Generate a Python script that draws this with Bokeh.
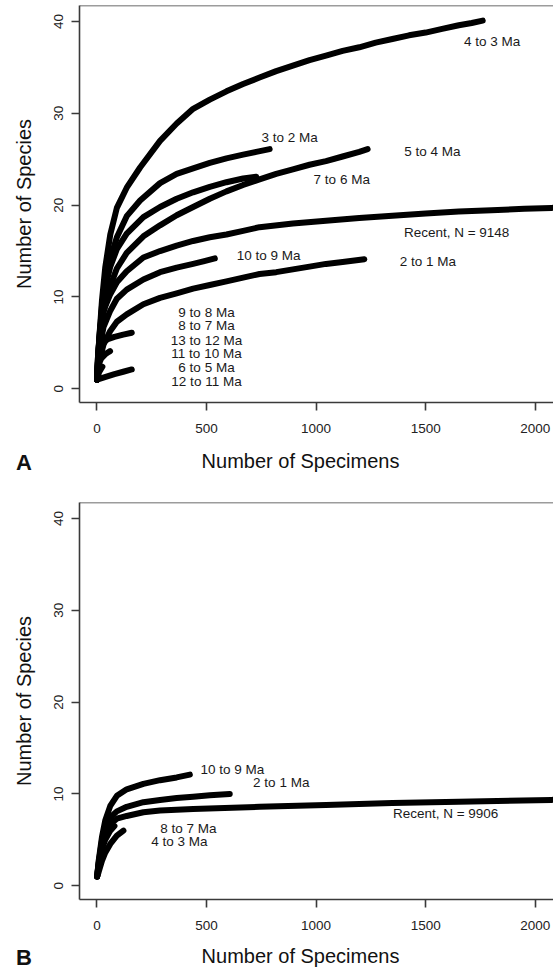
from bokeh.plotting import figure
from bokeh.layouts import column
from bokeh.models import Range1d, FixedTicker, Span
from bokeh.embed import file_html
from bokeh.resources import INLINE
from bokeh.core.properties import value

FONT = "Liberation Sans"

# ---------------- Panel A data (Number of Specimens vs Number of Species) -------------
a_4to3_x = [1, 5, 12, 23, 38, 61, 91, 136, 197, 288, 364, 439, 515, 591, 667, 742, 818, 894,
            970, 1045, 1121, 1197, 1272, 1348, 1424, 1500, 1575, 1651, 1710, 1760]
a_4to3_y = [1, 3.5, 5.9, 9.6, 13.2, 16.8, 19.7, 21.9, 24.1, 27.0, 28.9, 30.5, 31.5, 32.4, 33.2,
            33.9, 34.6, 35.2, 35.8, 36.3, 36.8, 37.2, 37.7, 38.1, 38.5, 38.8, 39.2, 39.6, 39.85, 40.1]
a_3to2_x = [1, 5, 12, 23, 38, 61, 91, 136, 197, 288, 364, 439, 515, 591, 667, 727, 788]
a_3to2_y = [1, 3.2, 5.6, 9.0, 11.5, 14.2, 16.5, 18.8, 20.5, 22.4, 23.4, 24.0, 24.6, 25.1, 25.5,
            25.8, 26.1]
a_7to6_x = [1, 5, 12, 23, 38, 61, 91, 136, 212, 288, 364, 439, 515, 591, 667, 727]
a_7to6_y = [1, 3.0, 5.4, 8.6, 11.0, 13.3, 15.2, 16.9, 18.7, 19.8, 20.7, 21.4, 22.0, 22.5, 22.9,
            23.1]
a_5to4_x = [1, 5, 12, 30, 61, 91, 136, 212, 288, 364, 439, 515, 591, 667, 742, 818, 894, 970,
            1045, 1121, 1197, 1235]
a_5to4_y = [1, 2.6, 4.5, 8.3, 11.2, 13.1, 14.8, 16.6, 17.8, 18.9, 19.8, 20.7, 21.5, 22.2, 22.8,
            23.4, 23.9, 24.4, 24.8, 25.3, 25.8, 26.1]
a_recent_x = [1, 5, 15, 30, 61, 91, 136, 212, 288, 364, 439, 515, 591, 667, 742, 894, 1045,
              1197, 1348, 1500, 1651, 1800, 1950, 2074, 2150]
a_recent_y = [1, 3.5, 6.7, 8.5, 10.3, 11.6, 12.8, 14.3, 15.0, 15.6, 16.1, 16.5, 16.8, 17.2,
              17.6, 18.0, 18.3, 18.6, 18.85, 19.1, 19.3, 19.45, 19.6, 19.7, 19.75]
a_10to9_x = [1, 5, 15, 30, 61, 91, 136, 212, 288, 364, 439, 490, 538]
a_10to9_y = [1, 2.8, 4.8, 6.7, 8.5, 9.8, 10.8, 11.9, 12.7, 13.2, 13.6, 13.9, 14.2]
a_2to1_x = [1, 5, 15, 30, 61, 91, 136, 212, 288, 364, 439, 515, 591, 667, 742, 818, 894, 970,
            1045, 1121, 1220]
a_2to1_y = [1, 2.2, 3.4, 4.8, 6.3, 7.3, 8.1, 9.2, 9.9, 10.4, 10.9, 11.3, 11.7, 12.1, 12.5,
            12.7, 13.0, 13.3, 13.6, 13.8, 14.1]
a_9to8_x = [1, 5, 12, 20]
a_9to8_y = [1, 3.5, 5.5, 6.5]
a_8to7_x = [1, 5, 12, 25]
a_8to7_y = [1, 3, 4.6, 5.6]
a_13to12_x = [1, 5, 12, 20, 30, 50, 80, 120, 159]
a_13to12_y = [1, 2.6, 3.8, 4.6, 5.1, 5.4, 5.65, 5.9, 6.1]
a_11to10_x = [1, 5, 12, 20, 30, 40, 50, 60]
a_11to10_y = [1, 2.2, 2.9, 3.3, 3.55, 3.8, 3.95, 4.1]
a_6to5_x = [1, 10, 25]
a_6to5_y = [1, 1.8, 2.4]
a_12to11_x = [1, 40, 80, 120, 159]
a_12to11_y = [1, 1.3, 1.6, 1.85, 2.1]

a_label_text = ["4 to 3 Ma", "3 to 2 Ma", "5 to 4 Ma", "7 to 6 Ma", "Recent, N = 9148",
                "10 to 9 Ma", "2 to 1 Ma", "9 to 8 Ma", "8 to 7 Ma", "13 to 12 Ma",
                "11 to 10 Ma", "6 to 5 Ma", "12 to 11 Ma"]
a_label_x = [1803, 879, 1530, 1117, 1641, 783, 1510, 500, 500, 500, 500, 500, 500]
a_label_y = [37.85, 27.4, 25.85, 22.8, 17.0, 14.5, 13.85, 8.3, 6.84, 5.27, 3.85, 2.36, 0.84]

# ---------------- Panel B data -------------
b_10to9_x = [1, 8, 23, 38, 61, 91, 136, 212, 288, 364, 424]
b_10to9_y = [1, 2.7, 5.3, 7.1, 8.7, 9.8, 10.5, 11.1, 11.5, 11.8, 12.1]
b_2to1_x = [1, 8, 23, 38, 61, 91, 136, 212, 288, 364, 439, 515, 606]
b_2to1_y = [1, 2.5, 4.9, 6.4, 7.45, 8.1, 8.6, 9.1, 9.35, 9.55, 9.7, 9.85, 10.0]
b_recent_x = [1, 8, 23, 38, 61, 91, 136, 212, 288, 439, 742, 1045, 1348, 1651, 2074, 2150]
b_recent_y = [1, 2.4, 4.5, 5.8, 6.7, 7.3, 7.6, 8.0, 8.2, 8.35, 8.6, 8.8, 9.0, 9.15, 9.35, 9.4]
b_8to7_x = [1, 8, 23, 38, 61, 80]
b_8to7_y = [1, 2.2, 4.0, 5.0, 6.0, 6.5]
b_4to3_x = [1, 8, 23, 38, 61, 91, 121]
b_4to3_y = [1, 1.5, 2.7, 3.6, 4.55, 5.45, 6.0]

b_label_text = ["10 to 9 Ma", "2 to 1 Ma", "Recent, N = 9906", "8 to 7 Ma", "4 to 3 Ma"]
b_label_x = [618, 841, 1591, 417, 376]
b_label_y = [12.7, 11.2, 7.9, 6.25, 4.84]

x_ticks = [0, 500, 1000, 1500, 2000]
y_ticks = [0, 10, 20, 30, 40]
x_title = "Number of Specimens"
y_title = "Number of Species"

X_START, X_END = -79.4, 2083.0
Y_START, Y_END = -1.5, 41.75
AXC = "#3a3a3a"
W = 553


def make_panel(curves, ltext, lx, ly, height, border_top, border_bottom):
    p = figure(width=W, height=height, output_backend="svg", toolbar_location=None,
               x_range=Range1d(X_START, X_END), y_range=Range1d(Y_START, Y_END),
               min_border_left=79, min_border_right=0, min_border_top=border_top,
               min_border_bottom=border_bottom)
    p.grid.visible = False
    p.outline_line_color = None
    p.background_fill_color = "white"
    p.border_fill_color = "white"

    for cx, cy in curves:
        p.line(cx, cy, line_color="black", line_width=6, line_cap="round", line_join="round")

    p.text(lx, ly, text=ltext, text_font=value(FONT), text_font_size="13.5px",
           text_align="center", text_baseline="middle", text_color="#1a1a1a")

    for ax in (p.xaxis[0], p.yaxis[0]):
        ax.axis_line_color = AXC
        ax.axis_line_width = 1.6
        ax.major_tick_line_color = AXC
        ax.major_tick_line_width = 1.6
        ax.major_tick_out = 8
        ax.major_tick_in = 0
        ax.minor_tick_line_color = None
        ax.major_label_text_font = FONT
        ax.major_label_text_font_size = "13.5px"
        ax.major_label_text_color = "#222222"
    p.xaxis.ticker = FixedTicker(ticks=x_ticks)
    p.yaxis.ticker = FixedTicker(ticks=y_ticks)
    p.xaxis.major_label_standoff = 13
    p.yaxis.major_label_standoff = 8
    p.yaxis.major_label_orientation = "vertical"
    p.yaxis.axis_label = y_title
    p.yaxis.axis_label_text_font = FONT
    p.yaxis.axis_label_text_font_size = "20px"
    p.yaxis.axis_label_text_font_style = "normal"
    p.yaxis.axis_label_text_color = "#111111"
    p.yaxis.axis_label_standoff = 17

    p.add_layout(Span(location=Y_END, dimension="width", line_color=AXC, line_width=1.6))
    return p


def make_strip(height, letter, title_y, letter_y):
    # thin text-only strip under each panel (axis title + panel letter), y measured from top
    s = figure(width=W, height=height, output_backend="svg", toolbar_location=None,
               x_range=Range1d(0, W), y_range=Range1d(height, 0),
               min_border=0, min_border_left=0, min_border_right=0,
               x_axis_type=None, y_axis_type=None, frame_align=False)
    s.grid.visible = False
    s.outline_line_color = None
    s.background_fill_color = "white"
    s.border_fill_color = "white"
    s.text([300], [title_y], text=[x_title], text_font=value(FONT), text_font_size="20px",
           text_align="center", text_baseline="middle", text_color="#111111")
    s.text([23.5], [letter_y], text=[letter], text_font=value(FONT), text_font_size="22px",
           text_font_style="bold", text_align="center", text_baseline="middle",
           text_color="#111111")
    return s


curves_a = [(a_4to3_x, a_4to3_y), (a_3to2_x, a_3to2_y), (a_7to6_x, a_7to6_y),
            (a_5to4_x, a_5to4_y), (a_recent_x, a_recent_y), (a_10to9_x, a_10to9_y),
            (a_2to1_x, a_2to1_y), (a_9to8_x, a_9to8_y), (a_8to7_x, a_8to7_y),
            (a_13to12_x, a_13to12_y), (a_11to10_x, a_11to10_y), (a_6to5_x, a_6to5_y),
            (a_12to11_x, a_12to11_y)]
curves_b = [(b_10to9_x, b_10to9_y), (b_2to1_x, b_2to1_y), (b_recent_x, b_recent_y),
            (b_8to7_x, b_8to7_y), (b_4to3_x, b_4to3_y)]

# page rows: panel A 0-447, strip A 447-490, panel B 490-944, strip B 944-970
p1 = make_panel(curves_a, a_label_text, a_label_x, a_label_y, 447, 5, 45)
s1 = make_strip(43, "A", 13, 15)
p2 = make_panel(curves_b, b_label_text, b_label_x, b_label_y, 454, 12, 45)
s2 = make_strip(26, "B", 11, 13)

layout = column(p1, s1, p2, s2, spacing=0)
open("out.html", "w").write(file_html(layout, INLINE))
